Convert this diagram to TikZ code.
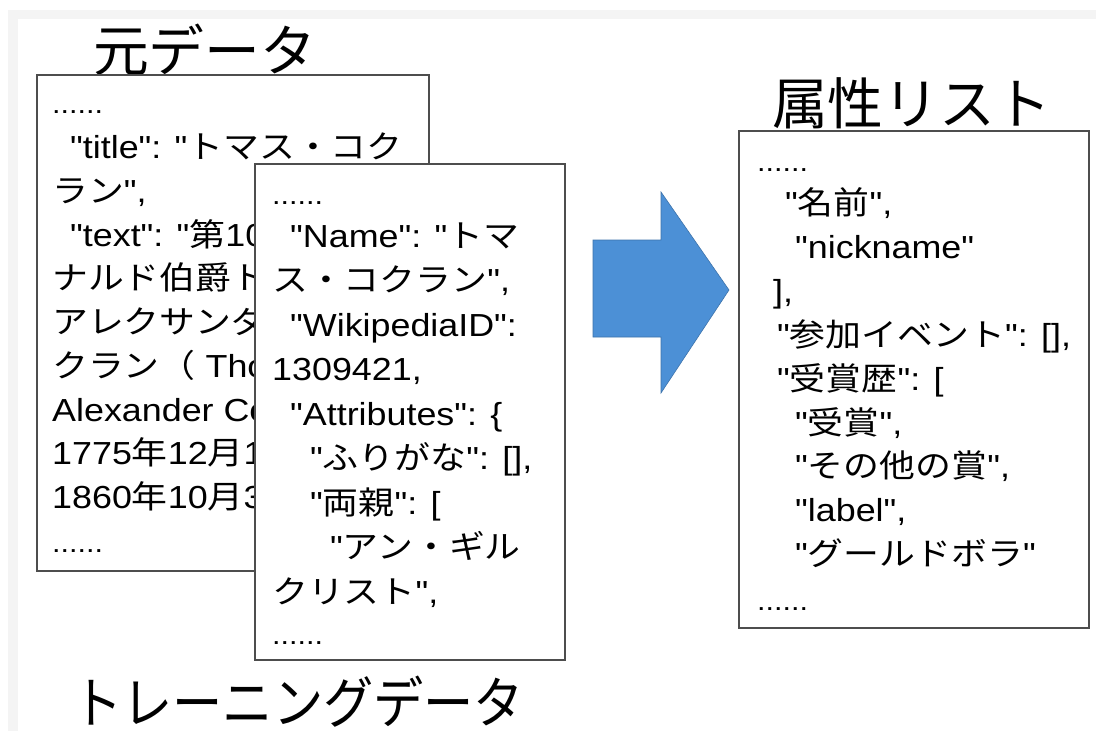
\documentclass[tikz,border=0pt]{standalone}
\usepackage{fontspec}
\setmainfont{Liberation Sans}[FakeStretch=1.125, Ligatures=TeXOff]
\newfontfamily\jpfont{Noto Sans CJK JP}[FakeStretch=1.125]
\newfontfamily\ttlfont{Noto Sans CJK JP}
\newcommand\jx[1]{{\jpfont #1}}
\newcommand\dotrow{\scalebox{0.85}{......}}
\definecolor{framegray}{HTML}{F4F4F4}
\definecolor{boxline}{HTML}{4D4D4D}
\definecolor{arrowblue}{RGB}{76,144,214}
\begin{document}
\begin{tikzpicture}[x=1bp,y=-1bp,
  box/.style={draw=boxline, line width=1.6bp, fill=white, inner sep=0pt},
  ln/.style={anchor=base west, inner sep=0pt, font=\fontsize{32}{38}\selectfont},
  ttl/.style={anchor=base west, inner sep=0pt, font=\ttlfont\fontsize{56}{60}\selectfont}]
\useasboundingbox (0,0) rectangle (1096,731);
\fill[white] (0,0) rectangle (1096,731);
\fill[framegray] (8,10) rectangle (1096,731);
\fill[white] (18,19) rectangle (1096,731);

% titles
\node[ttl] (t1) at (93,72) {元データ};
\node[ttl] (t2) at (772,125) {属性リスト};
\node[ttl] (t3) at (72,723) {\scalebox{0.9}[1]{トレーニングデータ}};

% box 1
\node[box, minimum width=392bp, minimum height=496bp] (b1) at (233,323) {};
\begin{scope}
\clip (37,75) -- (429,75) -- (429,164) -- (255,164) -- (255,571) -- (37,571) -- cycle;
\node[ln] (a0) at (52,114) {\dotrow};
\node[ln] (a1) at (70,158.5) {"title": "\jx{トマス・コク}};
\node[ln] (a2) at (52,202.3) {\jx{ラン}",};
\node[ln] (a3) at (70,246) {"text": "\jx{第}10};
\node[ln] (a4) at (52,289.8) {\jx{ナルド伯爵ト}};
\node[ln] (a5) at (52,333.5) {\jx{アレクサンダ}};
\node[ln] (a6) at (52,377.3) {\jx{クラン（} Tho};
\node[ln] (a7) at (52,421) {Alexander Co};
\node[ln] (a8) at (52,464.8) {1775\jx{年}12\jx{月}1};
\node[ln] (a9) at (52,508.5) {1860\jx{年}10\jx{月}3};
\node[ln] (a10) at (52,552) {\dotrow};
\end{scope}

% box 2
\node[box, minimum width=310bp, minimum height=496bp] (b2) at (410,412) {};
\node[ln] (c0) at (272,205) {\dotrow};
\node[ln] (c1) at (290,247) {"Name": "\jx{トマ}};
\node[ln] (c2) at (272,291.5) {\jx{ス・コクラン}",};
\node[ln] (c3) at (290,336) {"WikipediaID":};
\node[ln] (c4) at (272,380.5) {1309421,};
\node[ln] (c5) at (290,425) {"Attributes": \{};
\node[ln] (c6) at (310,469.5) {"\jx{ふりがな}": [],};
\node[ln] (c7) at (310,514) {"\jx{両親}": [};
\node[ln] (c8) at (330,558.5) {"\jx{アン・ギル}};
\node[ln] (c9) at (272,603) {\jx{クリスト}",};
\node[ln] (c10) at (272,644) {\dotrow};

% arrow
\fill[arrowblue, draw=arrowblue!80!black, line width=0.6bp]
  (593,240) -- (661,240) -- (661,192) -- (729,290) -- (661,393) -- (661,337) -- (593,337) -- cycle;

% box 3
\node[box, minimum width=350bp, minimum height=497bp] (b3) at (914,379.5) {};
\node[ln] (d0) at (757,172) {\dotrow};
\node[ln] (d1) at (785,214.5) {"\jx{名前}",};
\node[ln] (d2) at (795,258.4) {"nickname"};
\node[ln] (d3) at (773,302.3) {],};
\node[ln] (d4) at (777,346.2) {"\jx{参加イベント}": [],};
\node[ln] (d5) at (777,390.1) {"\jx{受賞歴}": [};
\node[ln] (d6) at (795,434) {"\jx{受賞}",};
\node[ln] (d7) at (795,477.9) {"\jx{その他の賞}",};
\node[ln] (d8) at (795,521.8) {"label",};
\node[ln] (d9) at (795,565.7) {"\jx{グールドボラ}"};
\node[ln] (d10) at (757,610) {\dotrow};
\end{tikzpicture}
\end{document}
